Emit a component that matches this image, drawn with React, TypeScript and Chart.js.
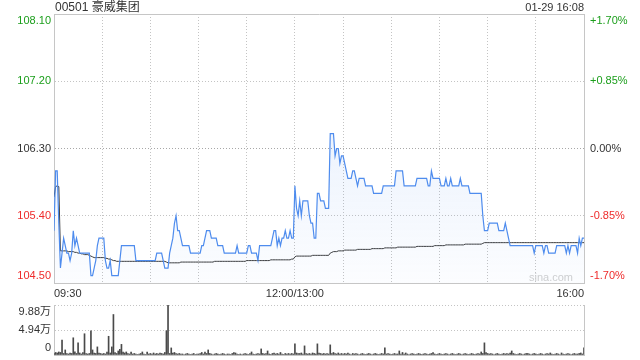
import React, { useEffect, useRef } from 'react';
import { Chart, registerables } from 'chart.js';

Chart.register(...registerables);

// ---------- data ----------
const TITLE = '00501 豪威集团';
const STAMP = '01-29 16:08';
const WATERMARK = 'sina.com';

const PRICE_TICKS = [104.5, 105.4, 106.3, 107.2, 108.1];
const PRICE_LABELS = ['104.50', '105.40', '106.30', '107.20', '108.10'];
const PCT_LABELS = ['-1.70%', '-0.85%', '0.00%', '+0.85%', '+1.70%'];

const TIME_TICKS = [0, 30, 60, 90, 120, 150, 180, 210, 240, 270, 300, 330];
const TIME_LABEL_MINUTES = [0, 150, 330];
const TIME_LABEL_TEXT = ['09:30', '12:00/13:00', '16:00'];

const VOL_TICKS = [0, 4.94, 9.88];
const VOL_LABELS = ['0', '4.94万', '9.88万'];

// last price per minute (minute index from 09:30, lunch break removed)
const PRICES = [
  105.2, 106.0, 106.0, 105.3, 104.7, 104.9, 105.1, 105.0, 104.9, 104.9,
  104.8, 104.9, 105.2, 105.0, 105.1, 105.0, 104.9, 104.9, 104.9, 104.9,
  104.9, 104.9, 104.9, 104.6, 104.6, 104.7, 104.8, 105.0, 105.1, 105.1,
  105.1, 105.1, 104.8, 104.7, 104.7, 104.8, 104.6, 104.6, 104.6, 104.6,
  104.6, 104.8, 105.0, 105.0, 105.0, 105.0, 105.0, 105.0, 105.0, 105.0,
  105.0, 104.8, 104.8, 104.8, 104.8, 104.8, 104.8, 104.8, 104.8, 104.8,
  104.8, 104.8, 104.8, 104.8, 104.9, 104.9, 104.9, 104.9, 104.8, 104.7,
  104.7, 104.7, 104.9, 105.0, 105.1, 105.3, 105.4, 105.2, 105.2, 105.1,
  105.0, 105.0, 105.0, 105.0, 105.0, 104.9, 104.9, 104.9, 104.9, 104.9,
  104.9, 104.9, 105.0, 105.0, 105.1, 105.2, 105.2, 105.2, 105.1, 105.1,
  105.1, 105.1, 105.0, 105.0, 105.0, 105.0, 104.9, 104.9, 104.9, 104.9,
  104.9, 104.9, 104.9, 104.9, 105.0, 104.9, 104.9, 104.9, 104.9, 104.9,
  104.9, 105.0, 105.0, 104.9, 104.9, 104.9, 104.9, 104.8, 105.0, 105.0,
  105.0, 105.0, 105.0, 105.0, 105.0, 105.0, 105.1, 105.2, 105.2, 105.0,
  105.1, 105.0, 105.1, 105.1, 105.2, 105.1, 105.1, 105.2, 105.1, 105.1,
  105.8, 105.5, 105.4, 105.6, 105.4, 105.6, 105.6, 105.6, 105.6, 105.4,
  105.3, 105.3, 105.1, 105.1, 105.7, 105.7, 105.6, 105.6, 105.6, 105.5,
  105.5, 105.5, 106.5, 106.5, 106.5, 106.2, 106.3, 106.3, 106.1, 106.2,
  106.2, 106.1, 106.0, 105.9, 105.9, 105.9, 106.0, 106.0, 105.9, 105.8,
  105.9, 105.9, 105.9, 105.9, 105.8, 105.8, 105.8, 105.8, 105.8, 105.7,
  105.7, 105.7, 105.7, 105.7, 105.7, 105.8, 105.8, 105.8, 105.8, 105.8,
  105.8, 105.8, 105.8, 106.0, 106.0, 106.0, 106.0, 106.0, 105.8, 105.8,
  105.8, 105.8, 105.8, 105.8, 105.8, 105.8, 105.9, 105.9, 105.9, 105.9,
  105.9, 105.9, 105.9, 105.8, 105.8, 106.0, 105.9, 105.9, 105.9, 105.9,
  105.9, 105.8, 105.8, 105.8, 105.9, 105.8, 105.8, 105.9, 105.8, 105.8,
  105.8, 105.8, 105.8, 105.9, 105.8, 105.8, 105.8, 105.8, 105.8, 105.7,
  105.7, 105.7, 105.7, 105.7, 105.7, 105.7, 105.7, 105.4, 105.2, 105.2,
  105.2, 105.3, 105.3, 105.3, 105.3, 105.3, 105.3, 105.2, 105.2, 105.2,
  105.2, 105.3, 105.2, 105.1, 105.0, 105.0, 105.0, 105.0, 105.0, 105.0,
  105.0, 105.0, 105.0, 105.0, 105.0, 105.0, 105.0, 105.0, 105.0, 104.9,
  105.0, 105.0, 105.0, 105.0, 105.0, 104.9, 105.0, 105.0, 104.9, 104.9,
  104.9, 104.9, 104.9, 105.0, 105.0, 105.0, 105.0, 105.0, 105.0, 104.9,
  105.0, 104.9, 105.0, 105.0, 105.0, 105.0, 104.9, 105.1, 105.0, 105.1,
  105.1,
];

// average price per minute
const AVG_PRICES = [
  105.65, 105.79, 105.80, 105.79, 104.93, 104.93, 104.93, 104.93, 104.93, 104.92,
  104.92, 104.92, 104.92, 104.91, 104.91, 104.90, 104.90, 104.89, 104.89, 104.88,
  104.88, 104.88, 104.87, 104.86, 104.85, 104.84, 104.84, 104.84, 104.84, 104.84,
  104.84, 104.84, 104.83, 104.83, 104.82, 104.82, 104.81, 104.80, 104.80, 104.79,
  104.79, 104.79, 104.79, 104.79, 104.79, 104.79, 104.79, 104.79, 104.79, 104.79,
  104.79, 104.79, 104.79, 104.79, 104.79, 104.79, 104.79, 104.79, 104.79, 104.79,
  104.79, 104.79, 104.79, 104.79, 104.79, 104.79, 104.79, 104.79, 104.79, 104.79,
  104.78, 104.77, 104.77, 104.77, 104.77, 104.77, 104.77, 104.77, 104.77, 104.78,
  104.78, 104.78, 104.78, 104.78, 104.78, 104.78, 104.78, 104.78, 104.78, 104.78,
  104.78, 104.78, 104.78, 104.78, 104.78, 104.78, 104.78, 104.78, 104.78, 104.78,
  104.79, 104.79, 104.79, 104.79, 104.79, 104.79, 104.79, 104.79, 104.79, 104.79,
  104.79, 104.79, 104.79, 104.79, 104.79, 104.79, 104.79, 104.79, 104.79, 104.79,
  104.80, 104.80, 104.80, 104.80, 104.80, 104.80, 104.80, 104.80, 104.80, 104.80,
  104.80, 104.80, 104.80, 104.80, 104.80, 104.81, 104.81, 104.81, 104.81, 104.81,
  104.81, 104.81, 104.81, 104.81, 104.81, 104.81, 104.81, 104.81, 104.82, 104.82,
  104.85, 104.86, 104.86, 104.86, 104.86, 104.86, 104.86, 104.86, 104.86, 104.86,
  104.86, 104.87, 104.87, 104.87, 104.87, 104.87, 104.87, 104.87, 104.87, 104.87,
  104.87, 104.87, 104.90, 104.91, 104.92, 104.92, 104.92, 104.93, 104.93, 104.93,
  104.93, 104.94, 104.94, 104.94, 104.94, 104.94, 104.94, 104.94, 104.94, 104.95,
  104.95, 104.95, 104.95, 104.95, 104.95, 104.95, 104.95, 104.95, 104.96, 104.96,
  104.96, 104.96, 104.96, 104.96, 104.96, 104.96, 104.97, 104.97, 104.97, 104.97,
  104.97, 104.97, 104.97, 104.97, 104.98, 104.98, 104.98, 104.98, 104.98, 104.98,
  104.98, 104.98, 104.98, 104.98, 104.98, 104.98, 104.99, 104.99, 104.99, 104.99,
  104.99, 104.99, 104.99, 104.99, 104.99, 104.99, 104.99, 105.00, 105.00, 105.00,
  105.00, 105.00, 105.00, 105.00, 105.01, 105.01, 105.01, 105.01, 105.01, 105.01,
  105.01, 105.01, 105.01, 105.01, 105.01, 105.01, 105.02, 105.02, 105.02, 105.02,
  105.02, 105.02, 105.02, 105.02, 105.02, 105.02, 105.02, 105.03, 105.04, 105.04,
  105.04, 105.04, 105.04, 105.04, 105.04, 105.04, 105.04, 105.04, 105.04, 105.04,
  105.04, 105.04, 105.04, 105.04, 105.04, 105.04, 105.04, 105.04, 105.04, 105.04,
  105.04, 105.04, 105.04, 105.04, 105.04, 105.04, 105.04, 105.04, 105.04, 105.04,
  105.04, 105.04, 105.04, 105.04, 105.04, 105.04, 105.04, 105.04, 105.04, 105.04,
  105.04, 105.04, 105.04, 105.04, 105.04, 105.04, 105.04, 105.04, 105.04, 105.04,
  105.04, 105.04, 105.04, 105.04, 105.04, 105.04, 105.04, 105.04, 105.04, 105.04,
  105.04,
];

// volume per minute, in 万 shares
const VOLUMES = [
  0.3, 0.5, 0.4, 0.6, 0.5, 2.94, 0.3, 1.0, 0.3, 0.2,
  0.4, 0.3, 3.4, 0.65, 0.3, 2.4, 0.4, 0.2, 0.5, 4.2,
  0.3, 0.2, 0.3, 4.8, 1.0, 0.4, 0.3, 1.6, 0.4, 0.3,
  0.2, 0.3, 0.2, 0.6, 3.7, 0.4, 1.6, 8.0, 0.5, 0.3,
  0.8, 1.1, 2.1, 0.6, 0.4, 0.6, 0.3, 0.2, 0.6, 0.2,
  0.3, 0.2, 0.1, 0.2, 0.3, 0.6, 0.2, 0.1, 0.6, 0.2,
  0.3, 0.2, 0.4, 0.2, 0.3, 0.2, 0.4, 0.3, 0.2, 0.5,
  4.8, 9.85, 0.3, 1.4, 0.4, 0.5, 0.3, 0.2, 0.3, 0.2,
  0.2, 0.1, 0.2, 0.3, 0.2, 0.1, 0.2, 0.3, 0.1, 0.2,
  0.2, 0.3, 0.5, 0.2, 0.6, 0.3, 1.0, 0.3, 0.2, 0.1,
  0.2, 0.3, 0.2, 0.1, 0.2, 0.3, 0.2, 0.1, 0.2, 0.2,
  0.1, 0.3, 0.5, 0.4, 0.2, 0.1, 0.2, 0.1, 0.2, 0.3,
  0.2, 0.1, 0.3, 0.6, 0.2, 0.1, 0.2, 0.3, 0.2, 1.2,
  0.3, 0.2, 0.3, 0.8, 0.2, 0.1, 0.3, 0.4, 0.2, 0.3,
  0.2, 0.5, 0.2, 0.1, 0.3, 0.2, 0.3, 0.2, 0.3, 0.2,
  2.2, 0.4, 0.3, 0.3, 0.4, 0.2, 1.8, 0.3, 0.2, 0.3,
  0.2, 0.4, 0.3, 0.2, 2.2, 0.4, 0.3, 0.2, 0.3, 0.2,
  0.3, 0.2, 2.0, 0.3, 0.5, 0.3, 0.2, 0.4, 0.2, 0.3,
  0.2, 0.3, 0.2, 0.4, 0.2, 0.1, 0.3, 0.2, 0.3, 0.2,
  0.1, 0.2, 0.3, 0.2, 0.1, 0.2, 0.3, 0.2, 0.1, 0.2,
  0.3, 0.2, 0.1, 0.2, 0.3, 0.2, 1.4, 0.2, 0.3, 0.2,
  0.1, 0.2, 0.3, 0.2, 0.2, 0.8, 0.2, 0.5, 0.2, 0.4,
  0.2, 0.1, 0.2, 0.3, 0.2, 0.1, 0.2, 0.3, 0.2, 0.1,
  0.2, 0.3, 0.2, 0.1, 0.2, 0.3, 0.5, 0.2, 0.1, 0.2,
  0.3, 0.2, 0.1, 0.2, 0.3, 0.2, 0.1, 0.2, 0.3, 0.2,
  0.1, 0.2, 0.3, 0.2, 0.1, 0.2, 0.3, 0.2, 0.1, 0.2,
  0.3, 0.2, 0.1, 0.2, 0.3, 0.2, 0.6, 0.3, 2.4, 0.5,
  0.3, 0.2, 0.3, 0.2, 0.1, 0.2, 0.3, 0.2, 0.1, 0.2,
  0.3, 0.2, 0.3, 0.2, 0.4, 0.8, 0.3, 0.2, 0.1, 0.2,
  0.3, 0.2, 0.1, 0.2, 0.3, 0.3, 0.2, 0.1, 0.2, 0.3,
  0.2, 0.1, 0.2, 0.3, 0.2, 0.1, 0.2, 0.3, 0.2, 0.4,
  0.2, 0.1, 0.2, 0.3, 0.2, 0.1, 0.4, 0.2, 0.1, 0.2,
  0.3, 0.2, 0.1, 0.2, 0.3, 0.2, 0.2, 0.3, 0.4, 0.2,
  1.4,
];

// ---------- styling ----------
const FONT = "'Liberation Sans', Arial, 'Noto Sans CJK SC', sans-serif";
const GREEN = '#1b9e1b';
const RED = '#ee2b2b';
const DARK = '#333333';
const BORDER = '#c6c6c6';
const GRID = '#c4c4c4';
const GRID_MID = '#a8a8a8';
const BLUE = '#4e8cee';
const DOTS = [1, 2];

const edgeLabel = (text: string, index: number, count: number) =>
  index === count - 1 ? ['', text] : index === 0 ? [text, ''] : text;

const priceColor = (i: number) => (i < 2 ? RED : i === 2 ? DARK : GREEN);

const zeroPad = (s: any) => {
  s.paddingTop = 0;
  s.paddingBottom = 0;
  s.paddingLeft = 0;
  s.paddingRight = 0;
};

const textPlugin = {
  id: 'textPlugin',
  beforeDatasetsDraw(chart: any) {
    const { ctx, chartArea } = chart;
    ctx.save();
    ctx.font = `11px ${FONT}`;
    ctx.fillStyle = '#d0d0d0';
    ctx.textAlign = 'right';
    ctx.textBaseline = 'alphabetic';
    ctx.fillText(WATERMARK, chartArea.right - 11, chartArea.bottom - 2);
    ctx.restore();
  },
  afterDraw(chart: any) {
    const { ctx, chartArea } = chart;
    ctx.save();
    ctx.fillStyle = DARK;
    ctx.textBaseline = 'middle';
    ctx.font = `12px ${FONT}`;
    ctx.textAlign = 'left';
    ctx.fillText(TITLE, chartArea.left + 1, 8);
    ctx.font = `11px ${FONT}`;
    ctx.textAlign = 'right';
    ctx.fillText(STAMP, chartArea.right, 8);
    ctx.restore();
  },
};

export default function App() {
  const priceRef = useRef<HTMLCanvasElement>(null);
  const volRef = useRef<HTMLCanvasElement>(null);

  useEffect(() => {
    const priceChart = new Chart(priceRef.current as HTMLCanvasElement, {
      type: 'line',
      data: {
        datasets: [
          {
            data: PRICES.map((y, x) => ({ x, y })),
            borderColor: BLUE,
            borderWidth: 1.2,
            pointRadius: 0,
            tension: 0,
            fill: 'start',
            backgroundColor: (c: any) => {
              const area = c.chart.chartArea;
              if (!area) return 'rgba(78,140,238,0.08)';
              const g = c.chart.ctx.createLinearGradient(0, area.top, 0, area.bottom);
              g.addColorStop(0, 'rgba(78,140,238,0.17)');
              g.addColorStop(1, 'rgba(78,140,238,0.02)');
              return g;
            },
          },
          {
            data: AVG_PRICES.map((y, x) => ({ x, y })),
            borderColor: '#3a3a3a',
            borderWidth: 1,
            pointRadius: 0,
            tension: 0,
            fill: false,
          },
        ],
      },
      options: {
        animation: false,
        responsive: false,
        devicePixelRatio: 1,
        events: [],
        layout: { padding: 0 },
        plugins: { legend: { display: false }, tooltip: { enabled: false } },
        scales: {
          x: {
            type: 'linear',
            position: 'bottom',
            min: 0,
            max: 330,
            afterBuildTicks: (s: any) => {
              s.ticks = TIME_TICKS.map((v) => ({ value: v }));
            },
            afterFit: (s: any) => {
              s.height = 17;
              zeroPad(s);
            },
            grid: {
              drawTicks: false,
              color: (c: any) =>
                c.index === 0 || c.index === TIME_TICKS.length - 1 ? 'rgba(0,0,0,0)' : GRID,
            },
            border: { display: true, color: BORDER, dash: DOTS },
            ticks: {
              autoSkip: false,
              maxRotation: 0,
              minRotation: 0,
              align: 'inner',
              padding: 4,
              color: DARK,
              font: { family: FONT, size: 11 },
              callback: (v: any) => {
                const k = TIME_LABEL_MINUTES.indexOf(Number(v));
                return k >= 0 ? TIME_LABEL_TEXT[k] : '';
              },
            },
          },
          x2: {
            type: 'linear',
            position: 'top',
            min: 0,
            max: 330,
            afterFit: (s: any) => {
              s.height = 14;
              zeroPad(s);
            },
            ticks: { display: false },
            grid: { display: false, drawTicks: false },
            border: { display: true, color: BORDER },
          },
          y: {
            type: 'linear',
            position: 'left',
            min: PRICE_TICKS[0],
            max: PRICE_TICKS[PRICE_TICKS.length - 1],
            afterBuildTicks: (s: any) => {
              s.ticks = PRICE_TICKS.map((v) => ({ value: v }));
            },
            afterFit: (s: any) => {
              s.width = 54;
              zeroPad(s);
            },
            grid: {
              drawTicks: false,
              color: (c: any) =>
                c.index === 0 || c.index === PRICE_TICKS.length - 1
                  ? 'rgba(0,0,0,0)'
                  : c.index === 2
                  ? GRID_MID
                  : GRID,
            },
            border: { display: true, color: BORDER, dash: DOTS },
            ticks: {
              autoSkip: false,
              padding: 3,
              color: (c: any) => priceColor(c.index),
              font: { family: FONT, size: 11 },
              callback: (_v: any, i: number, t: any[]) => edgeLabel(PRICE_LABELS[i], i, t.length),
            },
          },
          y2: {
            type: 'linear',
            position: 'right',
            min: PRICE_TICKS[0],
            max: PRICE_TICKS[PRICE_TICKS.length - 1],
            afterBuildTicks: (s: any) => {
              s.ticks = PRICE_TICKS.map((v) => ({ value: v }));
            },
            afterFit: (s: any) => {
              s.width = 56;
              zeroPad(s);
            },
            grid: { display: false, drawTicks: false },
            border: { display: true, color: BORDER },
            ticks: {
              autoSkip: false,
              padding: 6,
              color: (c: any) => priceColor(c.index),
              font: { family: FONT, size: 11 },
              callback: (_v: any, i: number, t: any[]) => edgeLabel(PCT_LABELS[i], i, t.length),
            },
          },
        },
      } as any,
      plugins: [textPlugin],
    });

    const volChart = new Chart(volRef.current as HTMLCanvasElement, {
      type: 'bar',
      data: {
        datasets: [
          {
            data: VOLUMES.map((y, x) => ({ x, y })),
            backgroundColor: '#4a4a4a',
            borderWidth: 0,
            barThickness: 1,
          },
        ],
      },
      options: {
        animation: false,
        responsive: false,
        devicePixelRatio: 1,
        events: [],
        layout: { padding: { top: 5, left: 0, right: 0, bottom: 0 } },
        plugins: { legend: { display: false }, tooltip: { enabled: false } },
        scales: {
          x: {
            type: 'linear',
            position: 'bottom',
            min: 0,
            max: 330,
            offset: false,
            afterFit: (s: any) => {
              s.height = 5;
              zeroPad(s);
            },
            ticks: { display: false },
            grid: { display: false, drawTicks: false },
            border: { display: true, color: BORDER },
          },
          y: {
            type: 'linear',
            position: 'left',
            min: VOL_TICKS[0],
            max: VOL_TICKS[VOL_TICKS.length - 1],
            afterBuildTicks: (s: any) => {
              s.ticks = VOL_TICKS.map((v) => ({ value: v }));
            },
            afterFit: (s: any) => {
              s.width = 54;
              zeroPad(s);
            },
            grid: {
              drawTicks: false,
              color: (c: any) => (c.index === 0 ? 'rgba(0,0,0,0)' : GRID),
            },
            border: { display: true, color: BORDER, dash: DOTS },
            ticks: {
              autoSkip: false,
              padding: 3,
              color: DARK,
              font: { family: FONT, size: 11 },
              callback: (_v: any, i: number, t: any[]) => edgeLabel(VOL_LABELS[i], i, t.length),
            },
          },
          y2: {
            type: 'linear',
            position: 'right',
            min: VOL_TICKS[0],
            max: VOL_TICKS[VOL_TICKS.length - 1],
            afterFit: (s: any) => {
              s.width = 56;
              zeroPad(s);
            },
            ticks: { display: false },
            grid: { display: false, drawTicks: false },
            border: { display: true, color: BORDER },
          },
        },
      } as any,
    });

    return () => {
      priceChart.destroy();
      volChart.destroy();
    };
  }, []);

  return (
    <div
      style={{
        position: 'absolute',
        left: 0,
        top: 0,
        width: 640,
        height: 360,
        background: '#ffffff',
        overflow: 'hidden',
      }}
    >
      <canvas
        ref={priceRef}
        width={640}
        height={300}
        style={{ position: 'absolute', left: 0, top: 0, width: 640, height: 300 }}
      />
      <canvas
        ref={volRef}
        width={640}
        height={60}
        style={{ position: 'absolute', left: 0, top: 300, width: 640, height: 60 }}
      />
    </div>
  );
}
